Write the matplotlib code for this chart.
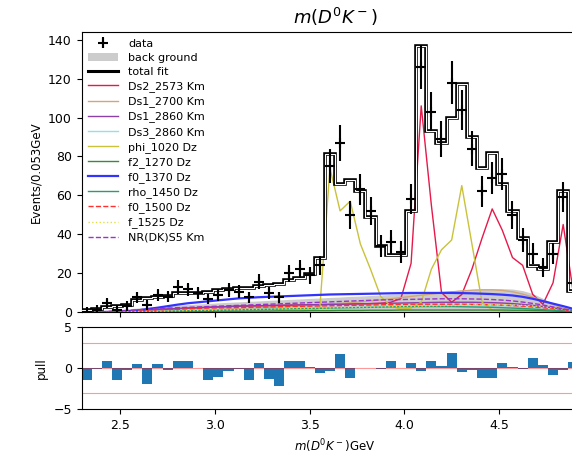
import numpy as np
import matplotlib
matplotlib.use('Agg')
import matplotlib.pyplot as plt

# binning of m(D0 K-)
XMIN = 2.297
BW = 0.0535
NBINS = 50

data = [0, 1, 4.5, 1, 3, 7.5, 3.6, 8.7, 7.9, 12.7,
        11.7, 9.6, 6.7, 8.7, 11.3, 10.4, 7.5, 15.6, 9.9, 7.5,
        19.9, 22, 19, 24, 75, 87, 50, 63, 52, 34,
        36, 31, 58, 126, 103, 89, 118, 104, 84, 62,
        69, 71, 50, 37, 30, 23, 30, 59, 15, 5]

total_fit = [1.2, 1.5, 2.6, 3.2, 3.6, 6.0, 7.2, 7.6, 8.4, 9.8,
             9.8, 10.0, 10.5, 11.5, 12.0, 12.2, 12.5, 13.2, 13.8, 14.3,
             16.5, 17.5, 19.5, 28, 81, 66, 68, 62, 49, 34,
             29.5, 29.5, 52, 137, 93, 87, 100, 117, 90, 74,
             82, 66, 52, 38, 23.5, 22, 36, 62, 11, 4]

background = [0, 0.3, 0.8, 1.2, 1.6, 2, 2.4, 2.8, 3.2, 3.5,
              3.8, 4.1, 4.4, 4.7, 5, 5.2, 5.5, 5.7, 6, 6.2,
              6.5, 6.7, 7, 7.2, 7.5, 7.7, 8, 8.2, 8.5, 8.7,
              9, 9.3, 9.6, 10, 10.3, 10.7, 11, 11.3, 11.6, 11.8,
              12, 12, 11.8, 11, 9.5, 7, 4.5, 2.5, 1, 0.3]

pull = [-1.5, -0.1, 0.9, -1.4, -0.3, 0.5, -1.9, 0.45, -0.3, 0.9,
        0.8, -0.05, -1.4, -1.1, -0.4, -0.1, -1.4, 0.6, -1.3, -2.2,
        0.8, 0.9, 0.1, -0.6, -0.4, 1.7, -1.2, 0.05, 0.0, -0.1,
        0.9, 0.0, 0.6, -0.4, 0.8, 0.3, 1.8, -0.5, -0.3, -1.2,
        -1.2, 0.6, 0.1, -0.1, 1.2, 0.4, -0.9, -0.3, 0.7, 0.0]

ds2_2573 = [0, 0, 0.2, 0.4, 0.6, 0.8, 1, 1.2, 1.5, 1.7,
            2, 2.2, 2.4, 2.6, 2.8, 3, 3.1, 3.2, 3.3, 3.4,
            3.5, 3.6, 3.7, 3.8, 3.9, 4, 4.1, 4.2, 4.3, 4.5,
            5, 7, 25, 106, 55, 10, 5, 9, 22, 38,
            53, 42, 28, 24, 9, 4, 15, 45, 10, 2]
ds1_2700 = [0, 0, 0, 0, 0, 0, 0, 0, 0.3, 0.5,
            0.7, 0.9, 1.1, 1.3, 1.5, 1.7, 1.9, 2.1, 2.3, 2.5,
            2.8, 3.1, 3.4, 3.7, 4, 4.4, 4.8, 5.2, 5.7, 6.2,
            6.8, 7.4, 8, 8.6, 9.2, 9.8, 10.3, 10.8, 11.2, 11.4,
            11.4, 11.1, 10.4, 9.2, 7.6, 5.8, 3.8, 2, 0.8, 0.2]
ds1_2860 = [0, 0, 0, 0.1, 0.3, 0.6, 0.9, 1.2, 1.5, 1.8,
            2, 2.2, 2.4, 2.6, 2.8, 3, 3.1, 3.2, 3.3, 3.4,
            3.5, 3.6, 3.7, 3.8, 3.9, 4, 4.1, 4.2, 4.3, 4.4,
            4.5, 4.6, 4.7, 4.8, 4.9, 5, 5, 5, 5, 4.9,
            4.8, 4.6, 4.3, 3.9, 3.4, 2.8, 2.1, 1.4, 0.7, 0.2]
ds3_2860 = [0, 0, 0, 0, 0.1, 0.2, 0.3, 0.4, 0.5, 0.6,
            0.7, 0.8, 0.9, 1, 1.1, 1.2, 1.3, 1.4, 1.5, 1.6,
            1.7, 1.8, 1.9, 2, 2.1, 2.2, 2.3, 2.4, 2.5, 2.6,
            2.7, 2.8, 2.9, 3, 3, 3, 3, 3, 2.9, 2.8,
            2.7, 2.5, 2.3, 2, 1.7, 1.3, 0.9, 0.5, 0.2, 0]
phi_1020 = [0] * 22 + [0.5, 2, 74, 52, 57, 35, 22, 8,
                       3, 1.5, 2, 5, 22, 32, 37, 65, 35, 5,
                       1, 0.5] + [0] * 8
f2_1270 = [0, 0, 0, 0, 0, 0, 0.1, 0.1, 0.2, 0.2,
           0.3, 0.3, 0.3, 0.4, 0.4, 0.4, 0.5, 0.5, 0.5, 0.6,
           0.6, 0.6, 0.7, 0.7, 0.7, 0.8, 0.8, 0.8, 0.9, 0.9,
           0.9, 1, 1, 1, 1, 1, 1, 1, 1, 1,
           1, 1, 0.9, 0.9, 0.8, 0.7, 0.5, 0.3, 0.1, 0]
f0_1370 = [0, 0, 0, 0, 0.3, 0.8, 1.5, 2.2, 3, 3.8,
           4.5, 5, 5.5, 6, 6.5, 7, 7.3, 7.6, 7.8, 8,
           8.2, 8.4, 8.6, 8.8, 9, 9.1, 9.2, 9.3, 9.4, 9.5,
           9.6, 9.7, 9.8, 9.8, 9.8, 9.8, 9.8, 9.7, 9.6, 9.4,
           9.2, 8.9, 8.5, 7.8, 6.8, 5.6, 4.3, 3, 1.6, 0.5]
rho_1450 = [0, 0, 0, 0, 0, 0.1, 0.2, 0.3, 0.4, 0.5,
            0.6, 0.7, 0.8, 0.9, 1, 1.1, 1.2, 1.3, 1.4, 1.5,
            1.6, 1.7, 1.8, 1.9, 2, 2.1, 2.2, 2.3, 2.4, 2.5,
            2.6, 2.7, 2.8, 2.8, 2.8, 2.8, 2.8, 2.7, 2.6, 2.5,
            2.4, 2.2, 2, 1.8, 1.5, 1.2, 0.9, 0.6, 0.3, 0]
f0_1500 = [0, 0, 0, 0.2, 0.4, 0.6, 0.8, 1, 1.2, 1.4,
           1.6, 1.8, 2, 2.1, 2.2, 2.3, 2.4, 2.5, 2.6, 2.7,
           2.8, 2.9, 3, 3.1, 3.2, 3.3, 3.4, 3.5, 3.6, 3.7,
           3.8, 3.9, 4, 4, 4, 4, 4, 4, 3.9, 3.8,
           3.7, 3.5, 3.3, 3, 2.6, 2.2, 1.7, 1.1, 0.5, 0.1]
f_1525 = [0, 0, 0, 0, 0.1, 0.2, 0.3, 0.4, 0.5, 0.6,
          0.7, 0.8, 0.9, 1, 1.1, 1.2, 1.3, 1.4, 1.5, 1.6,
          1.7, 1.8, 1.9, 2, 2.1, 2.2, 2.3, 2.4, 2.5, 2.6,
          2.7, 2.8, 2.9, 3, 3.1, 3.2, 3.3, 3.4, 3.5, 3.6,
          3.7, 3.7, 3.6, 3.4, 3.1, 2.7, 2.1, 1.4, 0.6, 0.1]
nr_dk_s5 = [0, 0, 0.2, 0.5, 0.8, 1.1, 1.4, 1.7, 2, 2.2,
            2.4, 2.6, 2.8, 3, 3.2, 3.4, 3.6, 3.8, 4, 4.2,
            4.4, 4.6, 4.8, 5, 5.2, 5.4, 5.6, 5.8, 6, 6.2,
            6.3, 6.4, 6.5, 6.6, 6.7, 6.8, 6.8, 6.8, 6.7, 6.6,
            6.4, 6.1, 5.7, 5.1, 4.4, 3.6, 2.6, 1.6, 0.7, 0.1]

components = [
    ('Ds2_2573 Km', ds2_2573, '#e6194b', '-'),
    ('Ds1_2700 Km', ds1_2700, '#d2a679', '-'),
    ('Ds1_2860 Km', ds1_2860, '#8b3fa8', '-'),
    ('Ds3_2860 Km', ds3_2860, '#8fe3e3', '-'),
    ('phi_1020 Dz', phi_1020, '#c9c23a', '-'),
    ('f2_1270 Dz', f2_1270, '#3a8a3a', '-'),
    ('f0_1370 Dz', f0_1370, '#3333ff', '-'),
    ('rho_1450 Dz', rho_1450, '#2a9d6f', '-'),
    ('f0_1500 Dz', f0_1500, '#ff3030', '--'),
    ('f_1525 Dz', f_1525, '#e0e040', ':'),
    ('NR(DK)S5 Km', nr_dk_s5, '#9933cc', '--'),
]

edges = XMIN + BW * np.arange(NBINS + 1)
centers = 0.5 * (edges[:-1] + edges[1:])
data = np.array(data, dtype=float)

fig = plt.figure(figsize=(5.72, 4.59), dpi=100)
ax = fig.add_axes([0.1425, 0.3203, 0.8864, 0.610])
axp = fig.add_axes([0.1425, 0.1083, 0.8864, 0.180], sharex=ax)

h_data = ax.errorbar(centers, data, yerr=np.sqrt(data), fmt='k+', ms=7,
                     mew=1.5, elinewidth=1.5, zorder=5)
h_bkg = ax.fill_between(centers, 0, background, color='gray', alpha=0.4, lw=0)
h_fit, = ax.plot([], [], color='k', lw=2.2)
ax.stairs(total_fit, edges, color='k', lw=2.6, zorder=4)
ax.stairs(total_fit, edges, color='white', lw=0.8, zorder=4)
handles = [h_data, h_bkg, h_fit]
labels = ['data', 'back ground', 'total fit']
for name, vals, col, ls in components:
    lw = 1.6 if name.startswith('f0_1370') else 1.0
    h, = ax.plot(centers, vals, color=col, ls=ls, lw=lw)
    handles.append(h)
    labels.append(name)

ax.set_xlim(edges[0], edges[-1])
ax.set_ylim(0, 144)
ax.set_yticks(np.arange(0, 141, 20))
ax.set_ylabel('Events/0.053GeV', fontsize=8.5)
ax.set_title('$m(D^0K^-)$', fontsize=13)
ax.tick_params(labelsize=9)
ax.tick_params(axis='x', labelbottom=False)
ax.legend(handles, labels, loc='upper left', frameon=False, fontsize=8,
          handlelength=2.7, handletextpad=0.9, labelspacing=0.38,
          borderaxespad=0.2)

axp.bar(centers, pull, width=BW, color='#1f77b4')
for yv in (-3, 0, 3):
    axp.axhline(yv, color='r', lw=0.8, alpha=0.4)
axp.set_ylim(-5, 5)
axp.set_yticks([-5, 0, 5])
axp.set_xticks([2.5, 3.0, 3.5, 4.0, 4.5])
axp.set_ylabel('pull', fontsize=8.5)
axp.set_xlabel('$m(D^0K^-)$GeV', fontsize=8.5)
axp.tick_params(labelsize=9)

fig.savefig('out.png', dpi=100)
